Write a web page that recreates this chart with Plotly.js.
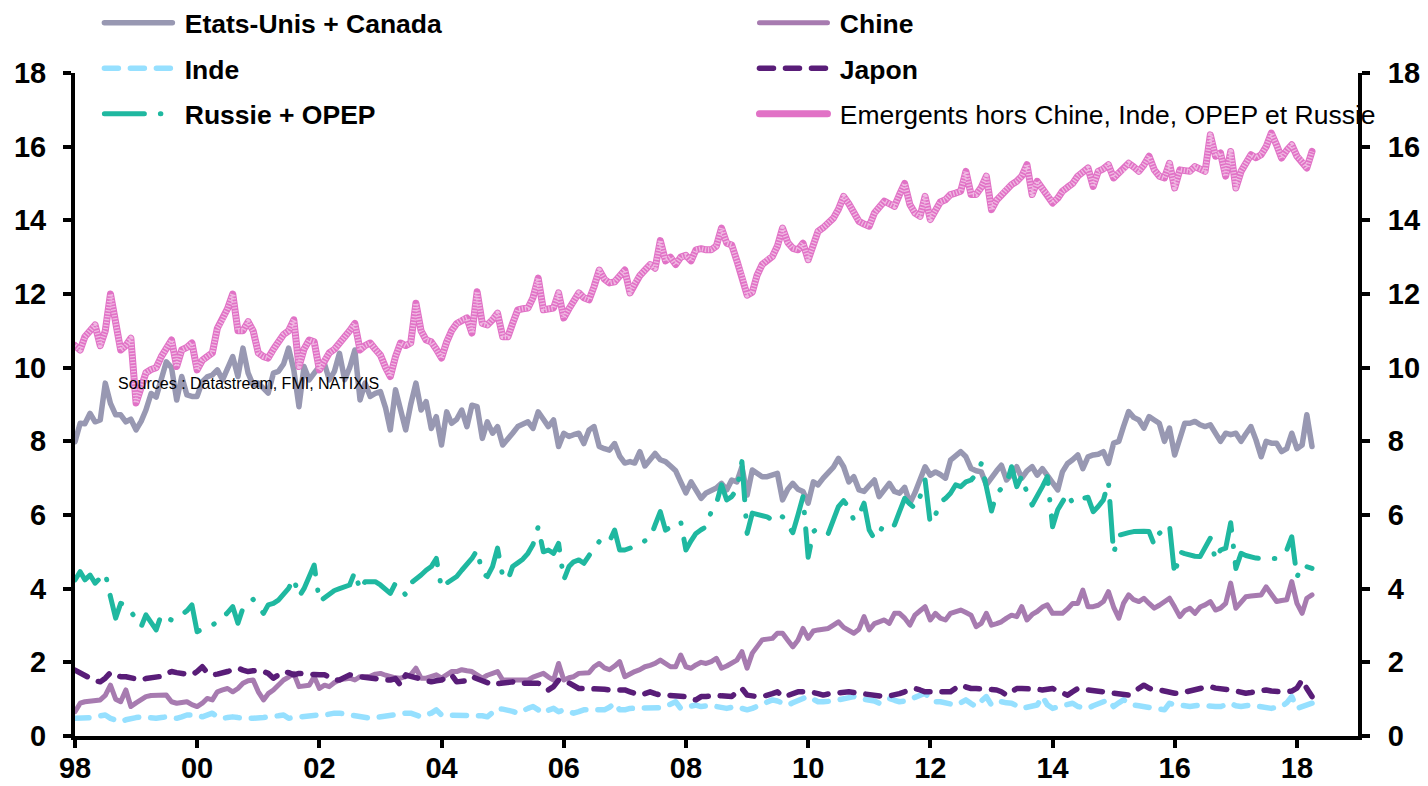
<!DOCTYPE html>
<html>
<head>
<meta charset="utf-8">
<script src="https://cdn.plot.ly/plotly-3.0.1.min.js"></script>
<style>
html, body { margin: 0; padding: 0; background: #ffffff; }
#chart { width: 1428px; height: 786px; }
path.js-line, .legendlines path { stroke-linecap: round; stroke-linejoin: round; }
.xy2 path.js-line { stroke-linecap: butt; }
</style>
</head>
<body>
<div id="chart"></div>
<script>
// Monthly series, January 1998 to April 2018 (share of world total, %)
const START_YEAR = 1998;

const seriesNames = [
  "Etats-Unis + Canada",
  "Chine",
  "Inde",
  "Japon",
  "Russie + OPEP",
  "Emergents hors Chine, Inde, OPEP et Russie"
];

const usCanada = [
  7.99, 8.49, 8.48, 8.76, 8.53, 8.58, 9.58, 9.03, 8.72, 8.72, 8.53, 8.60,
  8.31, 8.55, 8.85, 9.30, 9.20, 9.70, 10.16, 10.00, 9.12, 9.76, 9.26, 9.22,
  9.22, 9.62, 9.75, 9.80, 9.94, 9.67, 10.00, 10.30, 9.76, 10.53, 9.85, 9.53,
  9.58, 9.45, 9.31, 9.85, 9.90, 10.10, 10.53, 9.94, 8.94, 10.03, 9.67, 9.85,
  10.03, 10.10, 9.67, 9.90, 10.39, 9.67, 10.00, 10.48, 9.12, 9.58, 9.22, 9.30,
  9.35, 8.90, 8.31, 9.40, 8.90, 8.31, 9.00, 9.58, 8.85, 9.08, 8.35, 8.67,
  7.90, 8.80, 8.49, 8.60, 8.85, 8.40, 8.98, 8.94, 8.08, 8.53, 8.22, 8.40,
  7.90, 8.05, 8.22, 8.40, 8.45, 8.53, 8.35, 8.80, 8.60, 8.40, 8.58, 7.86,
  8.22, 8.13, 8.18, 8.22, 7.94, 8.31, 8.40, 7.86, 7.80, 7.76, 7.94, 7.60,
  7.41, 7.45, 7.41, 7.72, 7.33, 7.50, 7.67, 7.50, 7.45, 7.33, 7.20, 6.90,
  6.60, 6.90, 6.65, 6.45, 6.60, 6.65, 6.73, 6.86, 6.68, 6.95, 6.90, 7.31,
  6.54, 7.22, 7.13, 7.04, 7.04, 7.10, 7.13, 6.41, 6.70, 6.86, 6.70, 6.64,
  6.32, 6.90, 6.82, 7.00, 7.13, 7.30, 7.54, 7.31, 6.90, 7.04, 6.68, 6.64,
  6.80, 6.95, 6.50, 6.70, 6.86, 6.64, 6.59, 6.75, 6.32, 6.60, 6.95, 7.31,
  7.08, 7.17, 7.10, 7.00, 7.49, 7.60, 7.72, 7.58, 7.26, 7.20, 7.17, 6.82,
  7.04, 7.20, 7.35, 6.95, 7.10, 7.31, 7.00, 7.20, 7.31, 7.08, 7.26, 7.08,
  6.90, 6.68, 7.17, 7.40, 7.50, 7.63, 7.26, 7.58, 7.63, 7.65, 7.72, 7.40,
  7.95, 8.00, 8.40, 8.81, 8.65, 8.58, 8.36, 8.67, 8.58, 8.49, 8.00, 8.36,
  7.63, 8.10, 8.49, 8.49, 8.54, 8.45, 8.40, 8.45, 8.20, 8.00, 8.22, 8.18,
  8.22, 8.00, 8.20, 8.40, 8.04, 7.58, 8.00, 7.95, 7.95, 7.72, 7.80, 8.22,
  7.80, 7.90, 8.72, 7.86
];

const chine = [
  0.66, 0.89, 0.93, 0.95, 0.98, 0.98, 1.10, 1.38, 1.00, 0.93, 1.25, 0.80,
  0.90, 0.98, 1.07, 1.10, 1.11, 1.11, 1.11, 0.93, 0.89, 0.91, 0.93, 0.85,
  0.80, 0.89, 1.02, 0.98, 1.20, 1.25, 1.29, 1.20, 1.29, 1.43, 1.50, 1.52,
  1.20, 0.98, 1.15, 1.25, 1.38, 1.52, 1.60, 1.70, 1.34, 1.36, 1.38, 1.61,
  1.29, 1.38, 1.34, 1.45, 1.52, 1.55, 1.57, 1.52, 1.61, 1.61, 1.62, 1.68,
  1.70, 1.65, 1.61, 1.58, 1.57, 1.60, 1.66, 1.84, 1.57, 1.57, 1.60, 1.66,
  1.57, 1.65, 1.75, 1.75, 1.80, 1.77, 1.75, 1.66, 1.57, 1.65, 1.72, 1.75,
  1.52, 1.52, 1.52, 1.52, 1.52, 1.52, 1.60, 1.66, 1.70, 1.60, 1.52, 1.97,
  1.52, 1.58, 1.61, 1.70, 1.70, 1.72, 1.88, 1.97, 1.85, 1.80, 1.90, 2.02,
  1.61, 1.70, 1.75, 1.80, 1.88, 1.92, 1.97, 2.06, 1.95, 1.88, 1.88, 2.20,
  1.88, 1.84, 1.93, 2.00, 1.97, 2.02, 2.11, 1.84, 1.90, 1.97, 2.06, 2.29,
  1.84, 2.25, 2.45, 2.61, 2.63, 2.65, 2.79, 2.79, 2.60, 2.42, 2.60, 2.92,
  2.65, 2.85, 2.88, 2.90, 2.92, 3.01, 3.10, 2.95, 2.88, 2.79, 2.90, 3.24,
  2.88, 3.05, 3.10, 3.15, 3.06, 3.33, 3.33, 3.20, 3.01, 3.28, 3.40, 3.51,
  3.15, 3.33, 3.20, 3.15, 3.33, 3.38, 3.42, 3.35, 3.28, 2.97, 3.06, 3.33,
  3.01, 3.05, 3.10, 3.20, 3.28, 3.24, 3.51, 3.15, 3.30, 3.38, 3.50, 3.56,
  3.33, 3.33, 3.33, 3.45, 3.60, 3.60, 3.96, 3.51, 3.51, 3.55, 3.65, 3.92,
  3.50, 3.20, 3.60, 3.83, 3.70, 3.65, 3.74, 3.60, 3.47, 3.55, 3.65, 3.74,
  3.50, 3.24, 3.40, 3.47, 3.33, 3.50, 3.56, 3.65, 3.42, 3.47, 3.60, 4.15,
  3.47, 3.65, 3.78, 3.80, 3.83, 3.83, 4.05, 3.87, 3.65, 3.68, 3.70, 4.19,
  3.60, 3.33, 3.74, 3.83
];

const inde = [
  0.48, 0.48, 0.48, 0.50, 0.52, 0.55, 0.57, 0.48, 0.43, 0.39, 0.44, 0.48,
  0.50, 0.52, 0.50, 0.48, 0.48, 0.50, 0.52, 0.50, 0.48, 0.52, 0.57, 0.57,
  0.57, 0.52, 0.57, 0.62, 0.52, 0.48, 0.50, 0.52, 0.50, 0.48, 0.48, 0.48,
  0.48, 0.50, 0.52, 0.52, 0.55, 0.57, 0.48, 0.50, 0.52, 0.52, 0.55, 0.57,
  0.57, 0.57, 0.60, 0.62, 0.62, 0.60, 0.57, 0.55, 0.52, 0.50, 0.48, 0.50,
  0.52, 0.55, 0.57, 0.60, 0.62, 0.62, 0.62, 0.58, 0.52, 0.58, 0.62, 0.71,
  0.57, 0.57, 0.57, 0.57, 0.57, 0.57, 0.57, 0.57, 0.55, 0.52, 0.62, 0.75,
  0.73, 0.71, 0.67, 0.62, 0.70, 0.75, 0.80, 0.70, 0.62, 0.70, 0.75, 0.66,
  0.71, 0.66, 0.62, 0.66, 0.71, 0.71, 0.71, 0.71, 0.71, 0.78, 0.89, 0.71,
  0.71, 0.75, 0.75, 0.75, 0.75, 0.75, 0.75, 0.77, 0.80, 0.85, 0.93, 0.75,
  0.78, 0.80, 0.84, 0.80, 0.82, 0.84, 0.80, 0.77, 0.75, 0.78, 0.80, 0.75,
  0.71, 0.75, 0.80, 0.85, 0.93, 0.98, 0.95, 0.90, 0.84, 0.90, 0.98, 1.02,
  1.07, 0.98, 0.93, 0.93, 0.93, 0.95, 0.98, 1.02, 1.07, 1.07, 1.02, 1.00,
  0.98, 0.95, 0.89, 0.95, 1.02, 0.97, 0.93, 0.95, 0.98, 1.05, 1.10, 1.16,
  1.00, 0.93, 0.93, 0.90, 0.87, 0.84, 0.90, 0.98, 0.88, 0.80, 0.95, 1.07,
  0.84, 0.90, 0.93, 0.90, 0.89, 0.82, 0.75, 0.78, 0.80, 0.84, 1.07, 0.85,
  0.75, 0.78, 0.80, 0.85, 0.89, 0.80, 0.78, 0.75, 0.82, 0.89, 0.93, 0.98,
  0.80, 0.90, 0.98, 0.90, 0.84, 0.82, 0.80, 0.80, 0.78, 0.75, 0.71, 0.89,
  0.84, 0.84, 0.82, 0.80, 0.82, 0.84, 0.82, 0.80, 0.80, 0.80, 0.85, 0.89,
  0.82, 0.80, 0.82, 0.84, 0.82, 0.80, 0.78, 0.75, 0.78, 0.80, 0.90, 1.07,
  0.75, 0.80, 0.84, 0.89
];

const japon = [
  1.79, 1.70, 1.62, 1.57, 1.50, 1.47, 1.57, 1.72, 1.65, 1.61, 1.61, 1.58,
  1.55, 1.52, 1.56, 1.57, 1.60, 1.62, 1.70, 1.75, 1.72, 1.70, 1.68, 1.66,
  1.75, 1.88, 1.72, 1.66, 1.68, 1.70, 1.75, 1.80, 1.84, 1.79, 1.75, 1.77,
  1.79, 1.75, 1.70, 1.57, 1.65, 1.75, 1.72, 1.66, 1.70, 1.70, 1.69, 1.67,
  1.66, 1.66, 1.60, 1.52, 1.52, 1.60, 1.66, 1.63, 1.61, 1.58, 1.57, 1.53,
  1.52, 1.52, 1.52, 1.56, 1.38, 1.66, 1.62, 1.58, 1.57, 1.52, 1.47, 1.50,
  1.52, 1.60, 1.66, 1.47, 1.47, 1.50, 1.61, 1.57, 1.50, 1.45, 1.38, 1.42,
  1.43, 1.45, 1.47, 1.43, 1.43, 1.43, 1.43, 1.43, 1.35, 1.25, 1.34, 1.52,
  1.52, 1.45, 1.35, 1.29, 1.29, 1.29, 1.29, 1.29, 1.27, 1.25, 1.25, 1.25,
  1.25, 1.20, 1.16, 1.11, 1.15, 1.20, 1.15, 1.11, 1.11, 1.11, 1.10, 1.08,
  1.07, 1.00, 0.98, 1.07, 1.07, 1.10, 1.11, 1.09, 1.07, 1.07, 1.20, 1.29,
  1.11, 1.08, 1.07, 1.07, 1.10, 1.15, 1.20, 1.07, 1.10, 1.15, 1.20, 1.20,
  1.20, 1.18, 1.15, 1.11, 1.14, 1.16, 1.18, 1.20, 1.20, 1.18, 1.16, 1.13,
  1.11, 1.09, 1.07, 1.07, 1.09, 1.11, 1.15, 1.20, 1.25, 1.29, 1.25, 1.20,
  1.20, 1.20, 1.20, 1.20, 1.20, 1.30, 1.38, 1.33, 1.29, 1.29, 1.28, 1.25,
  1.25, 1.25, 1.20, 1.11, 1.20, 1.29, 1.29, 1.29, 1.29, 1.27, 1.25, 1.27,
  1.29, 1.22, 1.15, 1.11, 1.20, 1.29, 1.27, 1.25, 1.23, 1.22, 1.20, 1.18,
  1.16, 1.15, 1.13, 1.11, 1.20, 1.30, 1.38, 1.30, 1.25, 1.25, 1.22, 1.18,
  1.16, 1.16, 1.20, 1.22, 1.25, 1.29, 1.32, 1.34, 1.30, 1.29, 1.27, 1.25,
  1.22, 1.18, 1.16, 1.18, 1.20, 1.22, 1.25, 1.22, 1.20, 1.20, 1.20, 1.22,
  1.30, 1.52, 1.29, 1.07
];

const russieOpep = [
  4.24, 4.46, 4.24, 4.37, 4.15, 4.30, 4.42, 3.78, 3.20, 3.60, 3.56, 3.38,
  3.20, 2.97, 3.29, 3.10, 2.88, 3.29, 3.20, 3.15, 3.20, 3.29, 3.40, 3.56,
  2.83, 2.90, 2.95, 3.01, 3.10, 3.20, 3.35, 3.51, 3.06, 3.47, 3.60, 3.71,
  3.50, 3.33, 3.56, 3.60, 3.69, 3.85, 4.01, 4.28, 3.78, 4.00, 4.30, 4.64,
  3.65, 3.75, 3.85, 3.95, 4.00, 4.05, 4.10, 4.46, 3.96, 4.19, 4.20, 4.19,
  4.10, 4.00, 3.87, 4.15, 4.00, 3.83, 4.15, 4.25, 4.37, 4.50, 4.60, 4.82,
  4.01, 4.15, 4.25, 4.33, 4.50, 4.65, 4.82, 5.05, 4.42, 4.33, 4.60, 5.10,
  4.33, 4.24, 4.60, 4.70, 4.80, 4.96, 5.20, 5.68, 5.00, 5.05, 4.96, 5.23,
  4.24, 4.60, 4.73, 4.78, 4.69, 4.90, 5.10, 5.28, 5.20, 5.28, 5.59, 5.05,
  5.05, 5.10, 5.15, 5.20, 5.30, 5.37, 5.73, 6.09, 5.59, 5.68, 5.75, 5.82,
  5.05, 5.30, 5.50, 5.60, 5.68, 6.10, 6.30, 6.82, 6.41, 6.50, 6.70, 7.45,
  5.50, 6.05, 6.02, 6.00, 5.95, 5.86, 6.00, 5.95, 5.70, 5.52, 6.00, 6.50,
  4.85, 5.55, 5.64, 5.60, 5.50, 5.86, 6.23, 6.39, 6.20, 5.86, 6.00, 6.32,
  5.59, 5.35, 5.50, 5.77, 5.75, 5.73, 6.09, 6.45, 6.30, 6.18, 6.50, 6.95,
  5.77, 6.00, 6.36, 6.45, 6.59, 6.82, 6.77, 6.90, 6.95, 7.10, 7.40, 6.77,
  6.11, 6.59, 6.70, 6.86, 7.31, 6.77, 7.06, 6.60, 6.27, 6.50, 6.77, 7.04,
  5.68, 6.14, 6.35, 6.59, 6.32, 6.40, 6.45, 6.48, 6.09, 6.23, 6.41, 6.90,
  4.96, 5.45, 5.50, 5.52, 5.55, 5.57, 5.56, 5.55, 5.19, 5.50, 5.64, 5.73,
  4.37, 5.00, 4.95, 4.90, 4.88, 4.87, 5.10, 5.37, 4.78, 5.05, 5.10, 5.79,
  4.55, 4.96, 4.90, 4.85, 4.83, 4.82, 4.82, 4.85, 4.82, 4.96, 5.05, 5.41,
  4.31, 4.64, 4.60, 4.55
];

const emergents = [
  10.60, 10.48, 10.84, 11.00, 11.16, 10.60, 11.00, 12.00, 11.20, 10.48, 10.60, 10.80,
  9.04, 9.50, 9.86, 9.95, 10.00, 10.30, 10.50, 10.75, 10.03, 10.48, 10.55, 10.67,
  9.94, 10.20, 10.30, 10.40, 11.07, 11.30, 11.60, 12.00, 11.00, 11.00, 11.25, 11.00,
  10.40, 10.30, 10.26, 10.50, 10.70, 10.90, 11.00, 11.30, 10.03, 10.50, 10.75, 10.70,
  9.94, 10.20, 10.40, 10.50, 10.65, 10.80, 11.00, 11.20, 10.48, 10.60, 10.67, 10.50,
  10.34, 10.00, 9.76, 10.30, 10.67, 10.60, 10.67, 11.75, 11.00, 10.75, 10.70, 10.50,
  10.26, 10.70, 11.00, 11.20, 11.30, 11.35, 10.94, 12.06, 11.20, 11.16, 11.30, 11.48,
  10.84, 10.84, 11.20, 11.57, 11.60, 11.62, 11.90, 12.43, 11.57, 11.60, 11.62, 12.03,
  11.35, 11.60, 11.80, 12.03, 11.90, 11.84, 12.20, 12.65, 12.40, 12.30, 12.33, 12.50,
  12.65, 12.03, 12.30, 12.50, 12.65, 12.80, 12.70, 13.45, 12.90, 13.00, 12.80, 13.00,
  13.05, 12.90, 13.20, 13.23, 13.20, 13.20, 13.30, 13.79, 13.38, 13.33, 12.90, 12.50,
  11.97, 12.05, 12.50, 12.80, 12.93, 13.02, 13.30, 13.79, 13.40, 13.24, 13.20, 13.38,
  12.93, 13.30, 13.70, 13.80, 13.93, 14.06, 14.30, 14.65, 14.45, 14.20, 13.97, 13.90,
  13.84, 14.20, 14.33, 14.52, 14.45, 14.38, 14.70, 15.00, 14.43, 14.20, 14.11, 14.65,
  14.02, 14.30, 14.50, 14.56, 14.70, 14.74, 14.79, 15.33, 14.70, 14.70, 14.90, 15.20,
  14.29, 14.55, 14.70, 14.85, 14.97, 15.06, 15.20, 15.51, 14.70, 15.06, 14.85, 14.70,
  14.47, 14.60, 14.79, 14.90, 15.00, 15.20, 15.30, 15.42, 14.92, 15.33, 15.40, 15.51,
  15.15, 15.30, 15.37, 15.55, 15.45, 15.33, 15.50, 15.74, 15.37, 15.20, 15.15, 15.55,
  14.88, 15.37, 15.35, 15.33, 15.46, 15.40, 15.33, 16.32, 15.74, 15.83, 15.20, 15.87,
  14.88, 15.33, 15.55, 15.78, 15.70, 15.78, 16.00, 16.37, 16.05, 15.69, 15.90, 16.05,
  15.74, 15.60, 15.42, 15.87
];

const sourceText = "Sources : Datastream, FMI, NATIXIS";

// Month dates (first of each month) starting January 1998
const months = usCanada.map(function (_, i) {
  const y = START_YEAR + Math.floor(i / 12);
  const m = (i % 12) + 1;
  return y + "-" + (m < 10 ? "0" + m : m) + "-01";
});

const FONT = 'Arial, "Liberation Sans", Helvetica, sans-serif';
const GAP = "\u00A0"; // small gap between legend sample and label

function lineTrace(values, name, color, width, dash, legendId) {
  return {
    type: "scatter",
    mode: "lines",
    x: months,
    y: values,
    name: name,
    legend: legendId,
    legendgroup: name,
    line: { color: color, width: width, dash: dash || "solid", shape: "linear" },
    hoverinfo: "skip"
  };
}

const data = [
  lineTrace(usCanada, GAP + "<b>" + seriesNames[0] + "</b>", "#9898b2", 5.5, "solid", "legend"),
  lineTrace(chine, GAP + "<b>" + seriesNames[1] + "</b>", "#a77bb0", 5, "solid", "legend2"),
  lineTrace(inde, GAP + "<b>" + seriesNames[2] + "</b>", "#96e0ff", 5.5, "14px,12px", "legend"),
  lineTrace(japon, GAP + "<b>" + seriesNames[3] + "</b>", "#591d78", 5.5, "14px,12px", "legend2"),
  lineTrace(russieOpep, GAP + "<b>" + seriesNames[4] + "</b>", "#1fb8a0", 5, "40px,16px,0.5px,16px", "legend"),
  lineTrace(emergents, GAP + seriesNames[5], "#e172c6", 7, "solid", "legend2"),
  {
    type: "scatter", mode: "lines", x: months, y: emergents, yaxis: "y2",
    showlegend: false, hoverinfo: "skip", opacity: 0.5,
    line: { color: "#ffffff", width: 5, dash: "1.3px,1.7px" }
  }
];

const tickFont = { family: FONT, size: 29, color: "#000000", weight: "bold" };

const yCommon = {
  range: [0, 18], tick0: 0, dtick: 2, ticks: "outside", ticklen: 8, tickwidth: 4,
  tickcolor: "#000000", showline: true, linewidth: 4, linecolor: "#000000",
  showgrid: false, zeroline: false, tickfont: tickFont, fixedrange: true
};

const legendCommon = {
  xanchor: "left", y: 1.1116, yanchor: "top",
  orientation: "v", traceorder: "grouped", tracegroupgap: 8, itemwidth: 68,
  bgcolor: "rgba(0,0,0,0)", borderwidth: 0,
  font: { family: FONT, size: 26.5, color: "#000000" }
};

const layout = {
  width: 1428, height: 786,
  margin: { l: 75, r: 70, t: 73, b: 50, autoexpand: false },
  paper_bgcolor: "#ffffff", plot_bgcolor: "#ffffff",
  font: { family: FONT, color: "#000000" },
  hovermode: false,
  xaxis: {
    type: "date", range: ["1998-01-01", "2019-01-01"], tick0: "1998-01-01", dtick: "M24",
    tickformat: "%y", ticks: "outside", ticklen: 8, tickwidth: 4, tickcolor: "#000000",
    showline: true, linewidth: 4, linecolor: "#000000", showgrid: false, zeroline: false,
    tickfont: tickFont, fixedrange: true, ticklabelstandoff: -5
  },
  yaxis: Object.assign({}, yCommon, { side: "left", ticklabelstandoff: 11 }),
  yaxis2: Object.assign({}, yCommon, { side: "right", overlaying: "y", anchor: "x", ticklabelstandoff: 12 }),
  legend: Object.assign({}, legendCommon, { x: 0.019 }),
  legend2: Object.assign({}, legendCommon, { x: 0.5296 }),
  annotations: [{
    xref: "paper", yref: "paper", x: 0.032, y: 0.5324, xanchor: "left", yanchor: "middle",
    text: sourceText, showarrow: false,
    font: { family: FONT, size: 16, color: "#000000" }
  }]
};

Plotly.newPlot("chart", data, layout, { displayModeBar: false, staticPlot: true });
</script>
</body>
</html>
